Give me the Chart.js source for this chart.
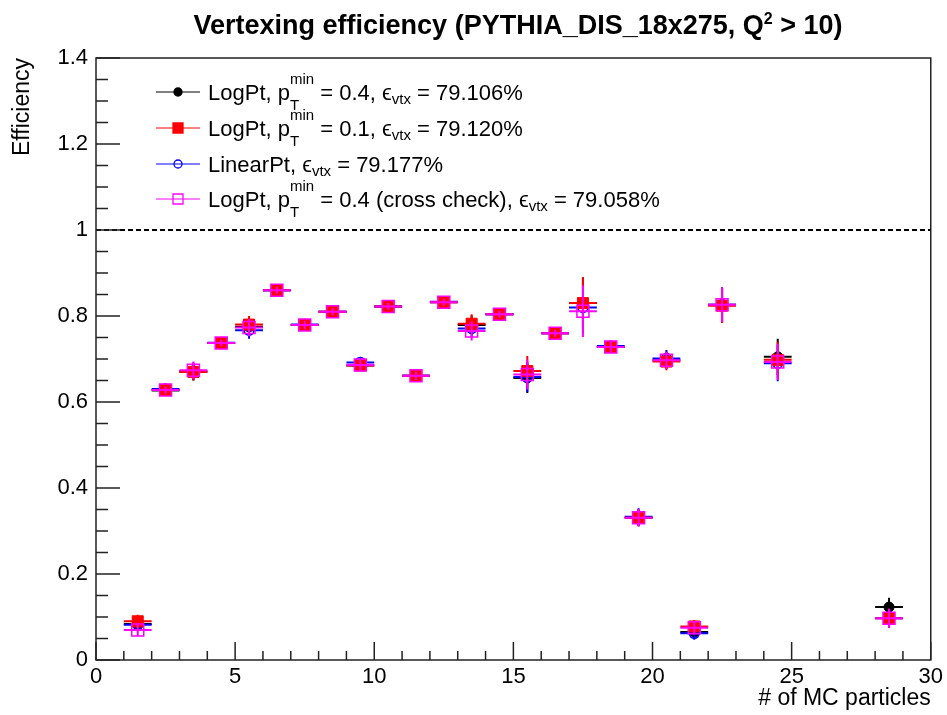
<!DOCTYPE html>
<html>
<head>
<meta charset="utf-8">
<script src="https://cdn.jsdelivr.net/npm/chart.js@4.4.1/dist/chart.umd.min.js"></script>
<style>
  html, body { margin: 0; padding: 0; background: #ffffff; }
  #wrap { position: relative; width: 947px; height: 715px; }
</style>
</head>
<body>
<div id="wrap"><canvas id="chart"></canvas></div>
<script>
const FONT = "'Liberation Sans', Arial, Helvetica, sans-serif";

// bin centres (# of MC particles) and half bin width
const mcParticles = [1.5, 2.5, 3.5, 4.5, 5.5, 6.5, 7.5, 8.5, 9.5, 10.5, 11.5, 12.5,
  13.5, 14.5, 15.5, 16.5, 17.5, 18.5, 19.5, 20.5, 21.5, 22.5, 24.5, 28.5];
const binHalfWidth = 0.5;

const effLogPt04 = [0.084, 0.627, 0.670, 0.737, 0.775, 0.860, 0.779, 0.810, 0.685, 0.822, 0.661, 0.832,
  0.779, 0.804, 0.656, 0.760, 0.830, 0.728, 0.331, 0.697, 0.065, 0.826, 0.705, 0.123];
const effLogPt01 = [0.090, 0.628, 0.670, 0.737, 0.780, 0.860, 0.779, 0.810, 0.685, 0.822, 0.661, 0.832,
  0.782, 0.804, 0.672, 0.760, 0.830, 0.728, 0.331, 0.694, 0.078, 0.824, 0.698, 0.097];
const effLinearPt = [0.082, 0.630, 0.672, 0.738, 0.767, 0.860, 0.780, 0.810, 0.692, 0.822, 0.661, 0.833,
  0.771, 0.804, 0.658, 0.760, 0.820, 0.730, 0.333, 0.701, 0.062, 0.826, 0.690, 0.097];
const effCrossCheck = [0.070, 0.628, 0.674, 0.737, 0.773, 0.860, 0.779, 0.810, 0.686, 0.822, 0.661, 0.832,
  0.765, 0.804, 0.664, 0.760, 0.811, 0.728, 0.331, 0.697, 0.075, 0.826, 0.693, 0.097];
const effError = [0.015, 0.008, 0.020, 0.008, 0.020, 0.008, 0.010, 0.008, 0.012, 0.008, 0.010, 0.008,
  0.022, 0.008, 0.035, 0.008, 0.060, 0.012, 0.020, 0.020, 0.015, 0.040, 0.042, 0.022];

const referenceEff = 1;

const titleParts = ["Vertexing efficiency (PYTHIA_DIS_18x275, Q", { sup: "2" }, " > 10)"];
const legendLabels = [
  ["LogPt, p", { sup: "min", sub: "T" }, " = 0.4, \u03f5", { sub: "vtx" }, " = 79.106%"],
  ["LogPt, p", { sup: "min", sub: "T" }, " = 0.1, \u03f5", { sub: "vtx" }, " = 79.120%"],
  ["LinearPt, \u03f5", { sub: "vtx" }, " = 79.177%"],
  ["LogPt, p", { sup: "min", sub: "T" }, " = 0.4 (cross check), \u03f5", { sub: "vtx" }, " = 79.058%"],
];

function toPoints(values) {
  return values.map((v, i) => ({ x: mcParticles[i], y: v }));
}

function series(values, colour, style, radius, filled, order) {
  return {
    data: toPoints(values),
    errors: effError,
    borderColor: colour,
    backgroundColor: filled ? colour : "rgba(0,0,0,0)",
    pointStyle: style,
    pointRadius: radius,
    pointHoverRadius: radius,
    pointBorderWidth: filled ? 1 : 1.5,
    showLine: false,
    order: order,
  };
}

// order: lower value is drawn later (on top)
const datasets = [
  series(effLogPt04, "#000000", "circle", 5, true, 4),
  series(effLogPt01, "#ff0000", "rect", 7.8, true, 2),
  series(effLinearPt, "#0000ff", "circle", 5, false, 3),
  series(effCrossCheck, "#ff00ff", "rect", 8.5, false, 1),
];

// text with ROOT-like super/subscripts
function richWidth(ctx, parts, size, small, weight) {
  let w = 0;
  parts.forEach((p) => {
    if (typeof p === "string") {
      ctx.font = `${weight} ${size}px ${FONT}`;
      w += ctx.measureText(p).width;
    } else {
      ctx.font = `${weight} ${small}px ${FONT}`;
      w += Math.max(p.sup ? ctx.measureText(p.sup).width : 0, p.sub ? ctx.measureText(p.sub).width : 0);
    }
  });
  return w;
}

function drawRich(ctx, parts, x, y, size, small, weight, supOff, subOff) {
  parts.forEach((p) => {
    if (typeof p === "string") {
      ctx.font = `${weight} ${size}px ${FONT}`;
      ctx.fillText(p, x, y);
      x += ctx.measureText(p).width;
    } else {
      ctx.font = `${weight} ${small}px ${FONT}`;
      let w = 0;
      if (p.sup) {
        ctx.fillText(p.sup, x, y - supOff);
        w = ctx.measureText(p.sup).width;
      }
      if (p.sub) {
        ctx.fillText(p.sub, x, y + (p.sup ? subOff : 4));
        w = Math.max(w, ctx.measureText(p.sub).width);
      }
      x += w;
    }
  });
}

function drawMarker(ctx, ds, x, y, r) {
  ctx.beginPath();
  if (ds.pointStyle === "circle") {
    ctx.arc(x, y, r, 0, Math.PI * 2);
  } else {
    ctx.rect(x - r, y - r, 2 * r, 2 * r);
  }
  if (ds.backgroundColor !== "rgba(0,0,0,0)") {
    ctx.fillStyle = ds.backgroundColor;
    ctx.fill();
  }
  ctx.lineWidth = 1.3;
  ctx.strokeStyle = ds.borderColor;
  ctx.stroke();
}

const rootStyle = {
  id: "rootStyle",
  beforeDatasetsDraw(chart) {
    const { ctx, chartArea, scales } = chart;
    const yy = scales.y.getPixelForValue(referenceEff);
    ctx.save();
    ctx.strokeStyle = "#000000";
    ctx.lineWidth = 2;
    ctx.setLineDash([5, 3]);
    ctx.beginPath();
    ctx.moveTo(chartArea.left, yy);
    ctx.lineTo(chartArea.right, yy);
    ctx.stroke();
    ctx.restore();
  },
  beforeDatasetDraw(chart, args) {
    const ds = chart.data.datasets[args.index];
    const { ctx, scales: { x, y } } = chart;
    ctx.save();
    ctx.strokeStyle = ds.borderColor;
    ctx.lineWidth = 2;
    ds.data.forEach((p, i) => {
      const px = x.getPixelForValue(p.x);
      const py = y.getPixelForValue(p.y);
      ctx.beginPath();
      ctx.moveTo(x.getPixelForValue(p.x - binHalfWidth), py);
      ctx.lineTo(x.getPixelForValue(p.x + binHalfWidth), py);
      ctx.moveTo(px, y.getPixelForValue(p.y - ds.errors[i]));
      ctx.lineTo(px, y.getPixelForValue(p.y + ds.errors[i]));
      ctx.stroke();
    });
    ctx.restore();
  },
  afterDraw(chart) {
    const { ctx, chartArea: a, scales: { x, y } } = chart;
    ctx.save();
    // frame
    ctx.strokeStyle = "#222222";
    ctx.lineWidth = 1.5;
    ctx.strokeRect(a.left, a.top, a.right - a.left, a.bottom - a.top);
    // ticks inside frame
    ctx.beginPath();
    for (let v = 0; v <= 30; v++) {
      const px = x.getPixelForValue(v);
      const len = v % 5 === 0 ? 18 : 9;
      ctx.moveTo(px, a.bottom);
      ctx.lineTo(px, a.bottom - len);
    }
    for (let k = 0; k <= 28; k++) {
      const py = y.getPixelForValue(k * 0.05);
      const len = k % 4 === 0 ? 24 : 12;
      ctx.moveTo(a.left, py);
      ctx.lineTo(a.left + len, py);
    }
    ctx.stroke();

    // title
    ctx.fillStyle = "#000000";
    ctx.textBaseline = "alphabetic";
    ctx.textAlign = "left";
    const tw = richWidth(ctx, titleParts, 27, 16, "bold");
    drawRich(ctx, titleParts, 518 - tw / 2, 34, 27, 16, "bold", 10, 0);

    // legend
    const rows = [100, 136, 172, 207];
    chart.data.datasets.forEach((ds, i) => {
      const ym = rows[i] - 8;
      ctx.strokeStyle = ds.borderColor;
      ctx.lineWidth = 1;
      ctx.beginPath();
      ctx.moveTo(156, ym);
      ctx.lineTo(200, ym);
      ctx.stroke();
      drawMarker(ctx, ds, 178, ym, ds.pointStyle === "circle" ? 4 : 5);
      ctx.fillStyle = "#000000";
      drawRich(ctx, legendLabels[i], 208, rows[i], 22, 15, "normal", 16, 10);
    });
    ctx.restore();
  },
};

new Chart(document.getElementById("chart"), {
  type: "scatter",
  data: { datasets: datasets },
  options: {
    responsive: true,
    maintainAspectRatio: false,
    animation: false,
    layout: { padding: { top: 58, right: 14, bottom: 0, left: 0 } },
    plugins: {
      legend: { display: false },
      tooltip: { enabled: false },
      title: { display: false },
    },
    scales: {
      x: {
        type: "linear",
        min: 0,
        max: 30,
        afterFit: (s) => { s.height = 55; },
        grid: { display: false, drawTicks: false },
        border: { display: false },
        ticks: {
          stepSize: 5,
          padding: 4,
          color: "#000000",
          font: { family: FONT, size: 22 },
          maxRotation: 0,
        },
        title: {
          display: true,
          text: "# of MC particles",
          align: "end",
          color: "#000000",
          font: { family: FONT, size: 23 },
          padding: { top: 0, bottom: 3 },
        },
      },
      y: {
        type: "linear",
        min: 0,
        max: 1.4,
        afterFit: (s) => { s.width = 96; },
        grid: { display: false, drawTicks: false },
        border: { display: false },
        ticks: {
          stepSize: 0.2,
          padding: 8,
          color: "#000000",
          font: { family: FONT, size: 22 },
          callback: (v) => String(+v.toFixed(1)),
        },
        title: {
          display: true,
          text: "Efficiency",
          align: "end",
          color: "#000000",
          font: { family: FONT, size: 23 },
          padding: { top: 9, bottom: 0 },
        },
      },
    },
  },
  plugins: [rootStyle],
});
</script>
</body>
</html>
